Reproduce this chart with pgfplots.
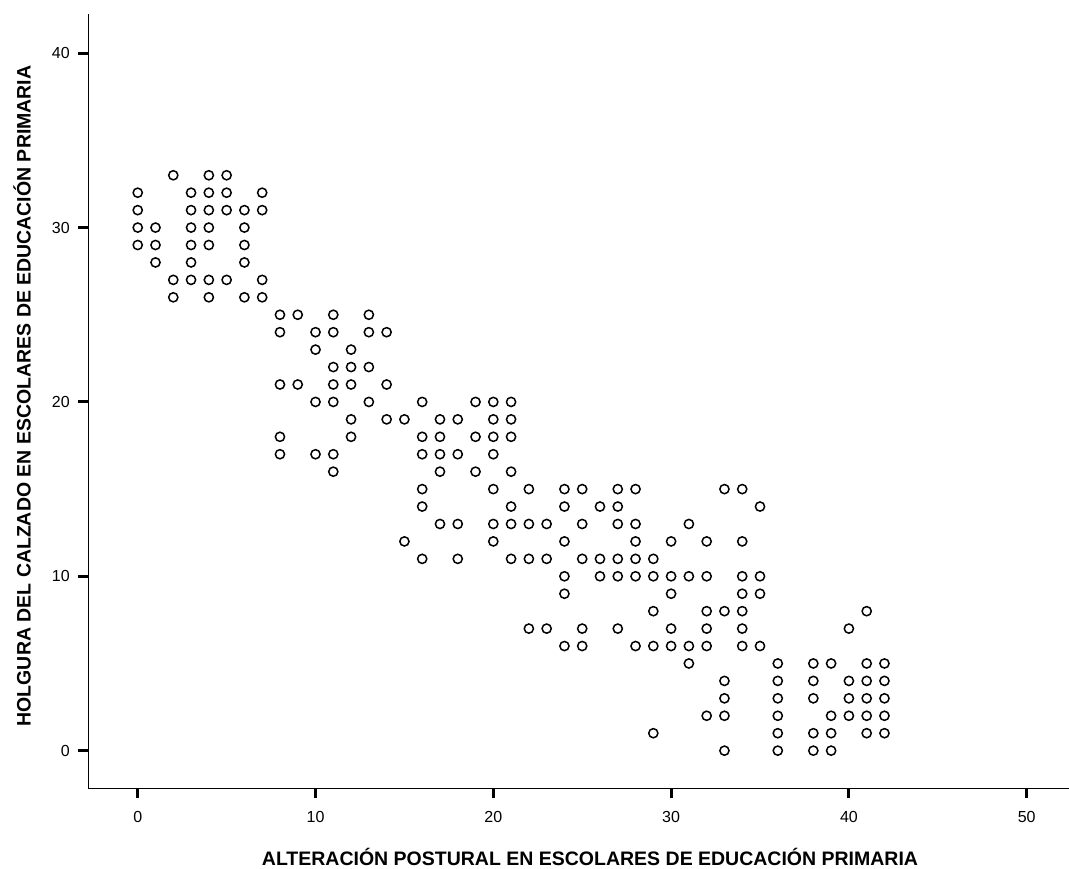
\documentclass[border=0pt]{standalone}
\usepackage{pgfplots}
\pgfplotsset{compat=1.18}
\usepackage{fontspec}
\setmainfont{Liberation Sans}
\begin{document}
\begin{tikzpicture}
\begin{axis}[
  scale only axis,
  width=980.7bp, height=774.3bp,
  xmin=-2.78, xmax=52.38, ymin=-2.16, ymax=42.25,
  axis lines*=left,
  axis line style={line width=1.3bp, black},
  xtick={0,10,20,30,40,50},
  ytick={0,10,20,30,40},
  minor tick num=0,
  tick align=outside,
  major tick length=10bp,
  every major tick/.append style={line width=3bp, black},
  xticklabel style={yshift=-9bp},
  yticklabel style={xshift=-5bp},
  tick label style={font=\fontsize{16bp}{19bp}\selectfont},
  /pgf/number format/assume math mode=true,
  xlabel={ALTERACIÓN POSTURAL EN ESCOLARES DE EDUCACIÓN PRIMARIA},
  ylabel={HOLGURA DEL CALZADO EN ESCOLARES DE EDUCACIÓN PRIMARIA},
  xlabel style={at={(axis description cs:0.5116,-0.0883)}, anchor=center, font=\fontsize{19.5bp}{23bp}\selectfont\bfseries},
  ylabel style={at={(axis description cs:-0.0675,0.5067)}, anchor=center, font=\fontsize{19.5bp}{23bp}\selectfont\bfseries},
]
\addplot[only marks, mark=o, mark size=4.6bp, mark options={line width=1.5bp, black}] coordinates {
(2,33)(4,33)(5,33)
(0,32)(3,32)(4,32)(5,32)(7,32)
(0,31)(3,31)(4,31)(5,31)(6,31)(7,31)
(0,30)(1,30)(3,30)(4,30)(6,30)
(0,29)(1,29)(3,29)(4,29)(6,29)
(1,28)(3,28)(6,28)
(2,27)(3,27)(4,27)(5,27)(7,27)
(2,26)(4,26)(6,26)(7,26)
(8,25)(9,25)(11,25)(13,25)
(8,24)(10,24)(11,24)(13,24)(14,24)
(10,23)(12,23)
(11,22)(12,22)(13,22)
(8,21)(9,21)(11,21)(12,21)(14,21)
(10,20)(11,20)(13,20)(16,20)
(12,19)(14,19)(15,19)
(8,18)(12,18)
(8,17)(10,17)(11,17)
(11,16)
(19,20)(20,20)(21,20)
(17,19)(18,19)(20,19)(21,19)
(16,18)(17,18)(19,18)(20,18)(21,18)
(16,17)(17,17)(18,17)(20,17)
(17,16)(19,16)(21,16)
(16,15)(20,15)(22,15)(24,15)(25,15)(27,15)(28,15)(33,15)(34,15)
(16,14)(21,14)(24,14)(26,14)(27,14)(35,14)
(17,13)(18,13)(20,13)(21,13)(22,13)(23,13)(25,13)(27,13)(28,13)(31,13)
(15,12)(20,12)(24,12)(28,12)(30,12)(32,12)(34,12)
(16,11)(18,11)(21,11)(22,11)(23,11)(25,11)(26,11)(27,11)(28,11)(29,11)
(24,10)(26,10)(27,10)(28,10)(29,10)(30,10)(31,10)(32,10)(34,10)(35,10)
(24,9)(30,9)(34,9)(35,9)
(29,8)(32,8)(33,8)(34,8)(41,8)
(22,7)(23,7)(25,7)(27,7)(30,7)(32,7)(34,7)(40,7)
(24,6)(25,6)(28,6)(29,6)(30,6)(31,6)(32,6)(34,6)(35,6)
(31,5)(36,5)(38,5)(39,5)(41,5)(42,5)
(33,4)(36,4)(38,4)(40,4)(41,4)(42,4)
(33,3)(36,3)(38,3)(40,3)(41,3)(42,3)
(32,2)(33,2)(36,2)(39,2)(40,2)(41,2)(42,2)
(29,1)(36,1)(38,1)(39,1)(41,1)(42,1)
(33,0)(36,0)(38,0)(39,0)
};
\end{axis}
\pgfresetboundingbox
\path[use as bounding box] ([xshift=-88.3bp,yshift=-79.7bp]current axis.south west) rectangle ([yshift=14bp]current axis.north east);
\end{tikzpicture}
\end{document}
